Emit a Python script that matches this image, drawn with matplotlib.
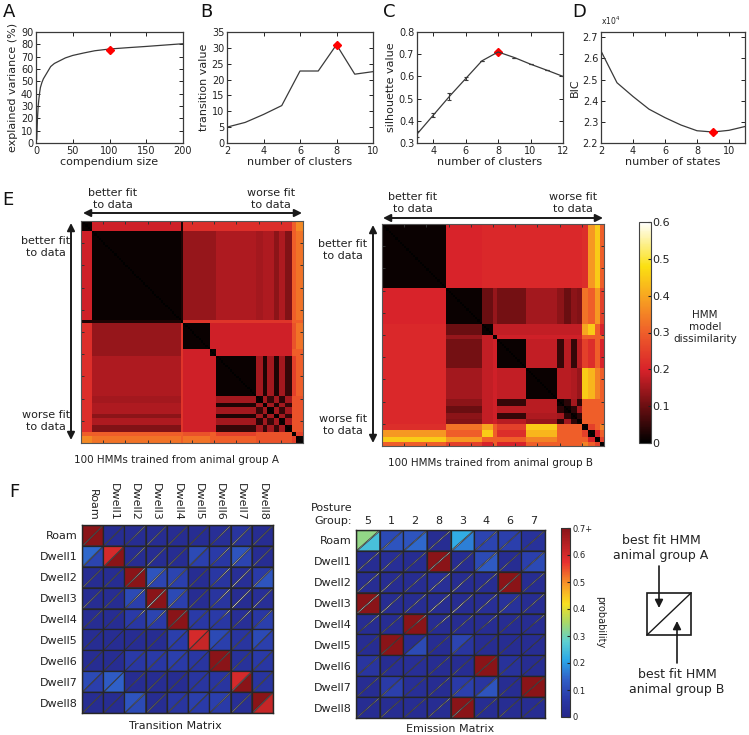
import numpy as np
import matplotlib
matplotlib.use('Agg')
import matplotlib.pyplot as plt
from matplotlib.colors import LinearSegmentedColormap, Normalize
from matplotlib.patches import Polygon, Rectangle

# ---------------- data ----------------
# A: explained variance vs compendium size
comp_size = [1, 2, 3, 4, 5, 6, 8, 10, 15, 20, 25, 30, 40, 50, 65, 80, 100, 125, 150, 175, 200]
expl_var = [3, 20, 30, 36, 41, 45, 49, 52, 57, 62, 64.5, 66, 69, 71, 73, 74.8, 76.2, 77.3, 78.3, 79.4, 80.5]
comp_best = (100, 75.8)

# B: transition value vs number of clusters
n_clust_b = [2, 3, 4, 5, 6, 7, 8, 9, 10]
trans_val = [5.0, 6.5, 9.0, 11.8, 22.7, 22.7, 31.0, 21.7, 22.5]

# C: silhouette value vs number of clusters
n_clust_c = [3, 4, 5, 6, 7, 8, 9, 10, 11, 12]
silhouette = [0.34, 0.425, 0.51, 0.59, 0.67, 0.71, 0.685, 0.655, 0.628, 0.60]
silh_err = [0.015, 0.01, 0.015, 0.008, 0.0, 0.0, 0.0, 0.0, 0.0, 0.0]

# D: BIC vs number of states
n_states = [2, 3, 4, 5, 6, 7, 8, 9, 10, 11]
bic = [26350, 24850, 24200, 23600, 23200, 22850, 22580, 22520, 22600, 22780]

# E: HMM dissimilarity, block structure (cluster sizes + between-cluster values)
sizes_A = [5, 40, 1, 12, 3, 18, 3, 2, 3, 2, 3, 3, 2, 3]
dissim_A = [
    [0.01, 0.19, 0.03, 0.22, 0.22, 0.22, 0.22, 0.22, 0.22, 0.22, 0.22, 0.22, 0.30, 0.36],
    [0.19, 0.01, 0.03, 0.14, 0.14, 0.16, 0.15, 0.16, 0.16, 0.13, 0.16, 0.12, 0.30, 0.33],
    [0.03, 0.03, 0.00, 0.23, 0.23, 0.23, 0.23, 0.23, 0.23, 0.23, 0.23, 0.23, 0.30, 0.30],
    [0.22, 0.14, 0.23, 0.01, 0.19, 0.19, 0.19, 0.19, 0.19, 0.19, 0.19, 0.19, 0.28, 0.33],
    [0.22, 0.14, 0.23, 0.19, 0.01, 0.19, 0.19, 0.19, 0.19, 0.19, 0.19, 0.19, 0.30, 0.30],
    [0.22, 0.16, 0.23, 0.19, 0.19, 0.01, 0.15, 0.03, 0.15, 0.03, 0.15, 0.05, 0.25, 0.30],
    [0.22, 0.15, 0.23, 0.19, 0.19, 0.15, 0.01, 0.15, 0.05, 0.15, 0.04, 0.15, 0.28, 0.28],
    [0.22, 0.16, 0.23, 0.19, 0.19, 0.03, 0.15, 0.01, 0.15, 0.03, 0.15, 0.05, 0.28, 0.28],
    [0.22, 0.16, 0.23, 0.19, 0.19, 0.15, 0.05, 0.15, 0.01, 0.15, 0.05, 0.15, 0.28, 0.28],
    [0.22, 0.13, 0.23, 0.19, 0.19, 0.03, 0.15, 0.03, 0.15, 0.01, 0.15, 0.05, 0.28, 0.28],
    [0.22, 0.16, 0.23, 0.19, 0.19, 0.15, 0.04, 0.15, 0.05, 0.15, 0.01, 0.15, 0.28, 0.28],
    [0.22, 0.12, 0.23, 0.19, 0.19, 0.05, 0.15, 0.05, 0.15, 0.05, 0.15, 0.01, 0.28, 0.28],
    [0.30, 0.30, 0.30, 0.28, 0.30, 0.25, 0.28, 0.28, 0.28, 0.28, 0.28, 0.28, 0.01, 0.25],
    [0.36, 0.33, 0.30, 0.33, 0.30, 0.30, 0.28, 0.28, 0.28, 0.28, 0.28, 0.28, 0.25, 0.01],
]
sizes_B = [29, 16, 5, 2, 13, 14, 3, 3, 3, 2, 3, 3, 2, 2]
dissim_B = [
    [0.01, 0.20, 0.21, 0.21, 0.21, 0.21, 0.21, 0.21, 0.21, 0.21, 0.22, 0.38, 0.45, 0.30],
    [0.20, 0.01, 0.10, 0.14, 0.11, 0.15, 0.13, 0.10, 0.13, 0.12, 0.33, 0.30, 0.38, 0.25],
    [0.21, 0.10, 0.01, 0.18, 0.18, 0.18, 0.18, 0.18, 0.18, 0.18, 0.40, 0.45, 0.30, 0.20],
    [0.21, 0.14, 0.18, 0.01, 0.19, 0.19, 0.19, 0.19, 0.19, 0.19, 0.30, 0.30, 0.30, 0.30],
    [0.21, 0.11, 0.18, 0.19, 0.01, 0.18, 0.05, 0.17, 0.05, 0.17, 0.25, 0.22, 0.30, 0.20],
    [0.21, 0.15, 0.18, 0.19, 0.18, 0.01, 0.17, 0.17, 0.16, 0.14, 0.45, 0.42, 0.35, 0.30],
    [0.21, 0.13, 0.18, 0.19, 0.05, 0.17, 0.01, 0.04, 0.15, 0.04, 0.30, 0.30, 0.30, 0.30],
    [0.21, 0.10, 0.18, 0.19, 0.17, 0.17, 0.04, 0.01, 0.04, 0.15, 0.30, 0.30, 0.30, 0.30],
    [0.21, 0.13, 0.18, 0.19, 0.05, 0.16, 0.15, 0.04, 0.01, 0.04, 0.30, 0.30, 0.30, 0.30],
    [0.21, 0.12, 0.18, 0.19, 0.17, 0.14, 0.04, 0.15, 0.04, 0.01, 0.30, 0.30, 0.30, 0.30],
    [0.22, 0.33, 0.40, 0.30, 0.25, 0.45, 0.30, 0.30, 0.30, 0.30, 0.01, 0.25, 0.30, 0.35],
    [0.38, 0.30, 0.45, 0.30, 0.22, 0.42, 0.30, 0.30, 0.30, 0.30, 0.25, 0.01, 0.20, 0.30],
    [0.45, 0.38, 0.30, 0.30, 0.30, 0.35, 0.30, 0.30, 0.30, 0.30, 0.30, 0.20, 0.01, 0.25],
    [0.30, 0.25, 0.20, 0.30, 0.20, 0.30, 0.30, 0.30, 0.30, 0.30, 0.35, 0.30, 0.25, 0.01],
]

# F: transition / emission matrices (A = upper-left triangle, B = lower-right)
states = ['Roam', 'Dwell1', 'Dwell2', 'Dwell3', 'Dwell4', 'Dwell5', 'Dwell6', 'Dwell7', 'Dwell8']
posture_groups = ['5', '1', '2', '8', '3', '4', '6', '7']
trans_A = [
    [0.75, 0.02, 0.02, 0.02, 0.02, 0.02, 0.03, 0.05, 0.02],
    [0.15, 0.60, 0.02, 0.02, 0.02, 0.10, 0.07, 0.12, 0.02],
    [0.02, 0.02, 0.75, 0.12, 0.09, 0.02, 0.06, 0.03, 0.07],
    [0.02, 0.02, 0.10, 0.75, 0.10, 0.02, 0.05, 0.02, 0.03],
    [0.02, 0.02, 0.07, 0.09, 0.75, 0.07, 0.07, 0.03, 0.06],
    [0.02, 0.02, 0.02, 0.02, 0.08, 0.60, 0.10, 0.05, 0.10],
    [0.02, 0.02, 0.07, 0.07, 0.08, 0.06, 0.75, 0.04, 0.07],
    [0.10, 0.13, 0.02, 0.02, 0.02, 0.05, 0.05, 0.60, 0.05],
    [0.02, 0.02, 0.12, 0.02, 0.06, 0.08, 0.08, 0.03, 0.72],
]
trans_B = [
    [0.75, 0.02, 0.02, 0.02, 0.02, 0.02, 0.03, 0.04, 0.02],
    [0.09, 0.75, 0.02, 0.02, 0.02, 0.08, 0.06, 0.09, 0.02],
    [0.02, 0.02, 0.75, 0.09, 0.08, 0.02, 0.05, 0.03, 0.12],
    [0.02, 0.02, 0.08, 0.75, 0.08, 0.02, 0.05, 0.02, 0.03],
    [0.02, 0.02, 0.06, 0.07, 0.75, 0.06, 0.06, 0.03, 0.08],
    [0.02, 0.02, 0.02, 0.02, 0.07, 0.62, 0.08, 0.05, 0.08],
    [0.02, 0.02, 0.06, 0.06, 0.07, 0.05, 0.75, 0.04, 0.06],
    [0.08, 0.14, 0.02, 0.02, 0.02, 0.05, 0.05, 0.75, 0.05],
    [0.02, 0.02, 0.10, 0.02, 0.05, 0.07, 0.07, 0.03, 0.62],
]
emis_A = [
    [0.33, 0.10, 0.12, 0.02, 0.22, 0.09, 0.08, 0.04],
    [0.02, 0.03, 0.02, 0.75, 0.02, 0.10, 0.02, 0.08],
    [0.02, 0.02, 0.02, 0.03, 0.02, 0.02, 0.75, 0.02],
    [0.75, 0.02, 0.02, 0.02, 0.02, 0.02, 0.04, 0.02],
    [0.02, 0.02, 0.75, 0.02, 0.02, 0.02, 0.02, 0.02],
    [0.02, 0.75, 0.02, 0.02, 0.09, 0.02, 0.02, 0.02],
    [0.05, 0.02, 0.03, 0.02, 0.02, 0.75, 0.04, 0.02],
    [0.02, 0.07, 0.03, 0.02, 0.07, 0.05, 0.02, 0.75],
    [0.02, 0.02, 0.02, 0.02, 0.75, 0.02, 0.02, 0.02],
]
emis_B = [
    [0.25, 0.12, 0.15, 0.02, 0.17, 0.09, 0.08, 0.04],
    [0.02, 0.03, 0.02, 0.75, 0.02, 0.13, 0.02, 0.10],
    [0.02, 0.02, 0.02, 0.03, 0.02, 0.02, 0.75, 0.02],
    [0.75, 0.02, 0.02, 0.02, 0.02, 0.03, 0.04, 0.02],
    [0.02, 0.02, 0.75, 0.02, 0.02, 0.02, 0.02, 0.02],
    [0.02, 0.75, 0.10, 0.02, 0.05, 0.02, 0.02, 0.02],
    [0.05, 0.03, 0.03, 0.02, 0.02, 0.75, 0.04, 0.02],
    [0.02, 0.08, 0.03, 0.02, 0.08, 0.12, 0.02, 0.75],
    [0.02, 0.02, 0.02, 0.02, 0.75, 0.02, 0.02, 0.02],
]

# ---------------- styling ----------------
W, H = 749, 735
TXT = '#222222'
LINE = '#3a3a3a'
plt.rcParams['font.family'] = ['DejaVu Sans']
plt.rcParams['text.color'] = TXT
plt.rcParams['axes.labelcolor'] = TXT
plt.rcParams['xtick.color'] = TXT
plt.rcParams['ytick.color'] = TXT


def box(x0, y0, x1, y1):
    return [x0 / W, 1 - y1 / H, (x1 - x0) / W, (y1 - y0) / H]


def matlab_axes(ax):
    ax.tick_params(direction='in', top=True, right=True, labelsize=7, length=3, width=0.7, pad=2)
    for sp in ax.spines.values():
        sp.set_color(LINE)
        sp.set_linewidth(0.9)


heat_cmap = LinearSegmentedColormap.from_list('dissim', [
    (0.0, '#000000'), (0.17, '#6e0f12'), (0.33, '#d8222a'), (0.5, '#ef5e2a'),
    (0.67, '#f8a820'), (0.8, '#fbe012'), (1.0, '#ffffff')])
# muted jet, as printed in the reference
prob_cmap = LinearSegmentedColormap.from_list('mjet', [
    (0.0, '#26288a'), (0.1, '#2a3aa8'), (0.2, '#3060c8'), (0.3, '#2aa8e8'),
    (0.4, '#5ed0d0'), (0.5, '#a8d868'), (0.6, '#f8e020'), (0.7, '#f89a28'),
    (0.82, '#e83030'), (1.0, '#8a1418')])
prob_norm = Normalize(0, 0.7)

fig = plt.figure(figsize=(W / 100, H / 100), dpi=100)

# ---------------- A ----------------
axA = fig.add_axes(box(36, 32, 183, 143))
axA.plot(comp_size, expl_var, color=LINE, lw=0.9)
axA.plot(*comp_best, marker='D', color='red', ms=4.5)
axA.set_xlim(0, 200)
axA.set_ylim(0, 90)
axA.set_xticks([0, 50, 100, 150, 200])
axA.set_yticks(range(0, 91, 10))
axA.set_xlabel('compendium size', fontsize=8, labelpad=1)
axA.set_ylabel('explained variance (%)', fontsize=8, labelpad=2)
matlab_axes(axA)

# ---------------- B ----------------
axB = fig.add_axes(box(227, 32, 373, 143))
axB.plot(n_clust_b, trans_val, color=LINE, lw=0.9)
axB.plot(8, trans_val[6], marker='D', color='red', ms=4)
axB.set_xlim(2, 10)
axB.set_ylim(0, 35)
axB.set_xticks([2, 4, 6, 8, 10])
axB.set_yticks(range(0, 36, 5))
axB.set_xlabel('number of clusters', fontsize=8, labelpad=1)
axB.set_ylabel('transition value', fontsize=8, labelpad=2)
matlab_axes(axB)

# ---------------- C ----------------
axC = fig.add_axes(box(417, 32, 563, 143))
axC.errorbar(n_clust_c, silhouette, yerr=silh_err, color=LINE, lw=0.9,
             elinewidth=0.8, capsize=1.5, capthick=0.8)
axC.plot(8, silhouette[5], marker='D', color='red', ms=4)
axC.set_xlim(3, 12)
axC.set_ylim(0.3, 0.8)
axC.set_xticks([4, 6, 8, 10, 12])
axC.set_yticks([0.3, 0.4, 0.5, 0.6, 0.7, 0.8])
axC.set_xlabel('number of clusters', fontsize=8, labelpad=1)
axC.set_ylabel('silhouette value', fontsize=8, labelpad=2)
matlab_axes(axC)

# ---------------- D ----------------
axD = fig.add_axes(box(601, 32, 745, 143))
axD.plot(n_states, bic, color=LINE, lw=0.9)
axD.plot(9, bic[7], marker='D', color='red', ms=4)
axD.set_xlim(2, 11)
axD.set_ylim(22000, 27250)
axD.set_xticks([2, 4, 6, 8, 10])
axD.set_yticks([22000, 23000, 24000, 25000, 26000, 27000])
axD.set_yticklabels(['2.2', '2.3', '2.4', '2.5', '2.6', '2.7'])
axD.set_xlabel('number of states', fontsize=8, labelpad=1)
axD.set_ylabel('BIC', fontsize=8, labelpad=2)
matlab_axes(axD)


# ---------------- E ----------------
def block_matrix(sizes, vals):
    lab = np.repeat(np.arange(len(sizes)), sizes)
    v = np.array(vals)
    v = (v + v.T) / 2
    m = v[lab][:, lab]
    np.fill_diagonal(m, 0.0)
    return m


def heat_axes(rect, mat):
    ax = fig.add_axes(rect)
    im = ax.imshow(mat, cmap=heat_cmap, vmin=0, vmax=0.6, interpolation='nearest',
                   extent=(0, 100, 100, 0), aspect='auto')
    ax.set_xticks(range(10, 100, 10))
    ax.set_yticks(range(10, 100, 10))
    ax.tick_params(direction='in', top=True, right=True, length=2.5, width=0.7,
                   labelbottom=False, labelleft=False, color='#333333')
    for sp in ax.spines.values():
        sp.set_color('#555555')
        sp.set_linewidth(0.8)
    return im


heat_axes(box(81, 221, 303, 443), block_matrix(sizes_A, dissim_A))
imB = heat_axes(box(382, 224, 604, 446), block_matrix(sizes_B, dissim_B))
caxE = fig.add_axes(box(639, 222, 651, 443))
cbE = fig.colorbar(imB, cax=caxE, ticks=[0, 0.1, 0.2, 0.3, 0.4, 0.5, 0.6])
cbE.ax.set_yticklabels(['0', '0.1', '0.2', '0.3', '0.4', '0.5', '0.6'])
cbE.ax.tick_params(labelsize=8, length=2.5, direction='in', pad=1)
cbE.outline.set_edgecolor('#444444')
cbE.outline.set_linewidth(0.8)


# ---------------- F ----------------
def split_matrix(rect, mat_a, mat_b):
    ax = fig.add_axes(rect)
    a = np.array(mat_a)
    b = np.array(mat_b)
    nr, nc = a.shape
    for i in range(nr):
        for j in range(nc):
            up = Polygon([(j, i), (j + 1, i), (j, i + 1)], closed=True,
                         facecolor=prob_cmap(prob_norm(a[i, j])), edgecolor='#2b2b2b', lw=0.5)
            lo = Polygon([(j + 1, i), (j + 1, i + 1), (j, i + 1)], closed=True,
                         facecolor=prob_cmap(prob_norm(b[i, j])), edgecolor='#2b2b2b', lw=0.5)
            ax.add_patch(up)
            ax.add_patch(lo)
            ax.add_patch(Rectangle((j, i), 1, 1, fill=False, edgecolor='#262626', lw=0.9))
    ax.set_xlim(0, nc)
    ax.set_ylim(nr, 0)
    ax.set_yticks(np.arange(nr) + 0.5)
    ax.set_yticklabels(states, fontsize=8)
    ax.tick_params(length=0, pad=3)
    for sp in ax.spines.values():
        sp.set_color('#262626')
        sp.set_linewidth(1.0)
    return ax


axT = split_matrix(box(82, 525, 273, 713), trans_A, trans_B)
axT.xaxis.tick_top()
axT.set_xticks(np.arange(9) + 0.5)
axT.set_xticklabels(states, rotation=-90, fontsize=8)

axEm = split_matrix(box(356, 530, 545, 718), emis_A, emis_B)
axEm.xaxis.tick_top()
axEm.set_xticks(np.arange(8) + 0.5)
axEm.set_xticklabels(posture_groups, fontsize=8)

caxF = fig.add_axes(box(561, 528, 570, 717))
cbF = fig.colorbar(plt.cm.ScalarMappable(norm=prob_norm, cmap=prob_cmap), cax=caxF,
                   ticks=[0, 0.1, 0.2, 0.3, 0.4, 0.5, 0.6, 0.7])
cbF.ax.set_yticklabels(['0', '0.1', '0.2', '0.3', '0.4', '0.5', '0.6', '0.7+'])
cbF.ax.tick_params(labelsize=6, length=2, direction='in', pad=2)
cbF.outline.set_edgecolor('#333333')
cbF.outline.set_linewidth(0.8)
cbF.set_label('probability', rotation=-90, fontsize=7, labelpad=9)

# ---------------- overlay: labels, arrows, legend ----------------
ov = fig.add_axes([0, 0, 1, 1])
ov.set_xlim(0, W)
ov.set_ylim(H, 0)
ov.axis('off')
ov.patch.set_alpha(0)

for lbl, x, y in [('A', 9, 12), ('B', 206, 12), ('C', 389, 12), ('D', 579, 12),
                  ('E', 8, 200), ('F', 14, 492)]:
    ov.text(x, y, lbl, fontsize=13, ha='center', va='center', color='#111111')

ov.text(601, 27, r'x10$^4$', fontsize=5.5, ha='left', va='bottom')

arrow_kw = dict(arrowstyle='<|-|>', color='#1a1a1a', lw=1.4, mutation_scale=11,
                shrinkA=0, shrinkB=0)
ov.annotate('', xy=(83, 213), xytext=(302, 213), arrowprops=arrow_kw)
ov.annotate('', xy=(71, 223), xytext=(71, 440), arrowprops=arrow_kw)
ov.annotate('', xy=(383, 218), xytext=(603, 218), arrowprops=arrow_kw)
ov.annotate('', xy=(373, 225), xytext=(373, 443), arrowprops=arrow_kw)

fit_kw = dict(fontsize=8, ha='center', va='center', linespacing=1.2)
ov.text(113, 199, 'better fit\nto data', **fit_kw)
ov.text(271, 199, 'worse fit\nto data', **fit_kw)
ov.text(46, 247, 'better fit\nto data', **fit_kw)
ov.text(46, 421, 'worse fit\nto data', **fit_kw)
ov.text(413, 203, 'better fit\nto data', **fit_kw)
ov.text(573, 203, 'worse fit\nto data', **fit_kw)
ov.text(343, 250, 'better fit\nto data', **fit_kw)
ov.text(343, 425, 'worse fit\nto data', **fit_kw)

ov.text(177, 460, '100 HMMs trained from animal group A', fontsize=7.5, ha='center', va='center')
ov.text(490, 463, '100 HMMs trained from animal group B', fontsize=7.5, ha='center', va='center')
ov.text(705, 327, 'HMM\nmodel\ndissimilarity', fontsize=7.5, ha='center', va='center', linespacing=1.2)

ov.text(175, 726, 'Transition Matrix', fontsize=8, ha='center', va='center')
ov.text(450, 729, 'Emission Matrix', fontsize=8, ha='center', va='center')
ov.text(352, 508, 'Posture', fontsize=8, ha='right', va='center')
ov.text(352, 521, 'Group:', fontsize=8, ha='right', va='center')

# legend square
ov.add_patch(Rectangle((647, 593), 44, 42, fill=False, edgecolor='#1a1a1a', lw=1.2))
ov.plot([647, 691], [635, 593], color='#1a1a1a', lw=1.0)
one_kw = dict(arrowstyle='-|>', color='#1a1a1a', lw=1.2, mutation_scale=12, shrinkA=0, shrinkB=0)
ov.annotate('', xy=(659, 608), xytext=(659, 566), arrowprops=one_kw)
ov.annotate('', xy=(677, 621), xytext=(677, 663), arrowprops=one_kw)
ov.text(661, 548, 'best fit HMM\nanimal group A', fontsize=9, ha='center', va='center', linespacing=1.15)
ov.text(677, 682, 'best fit HMM\nanimal group B', fontsize=9, ha='center', va='center', linespacing=1.15)

fig.savefig('out.png', dpi=100)
